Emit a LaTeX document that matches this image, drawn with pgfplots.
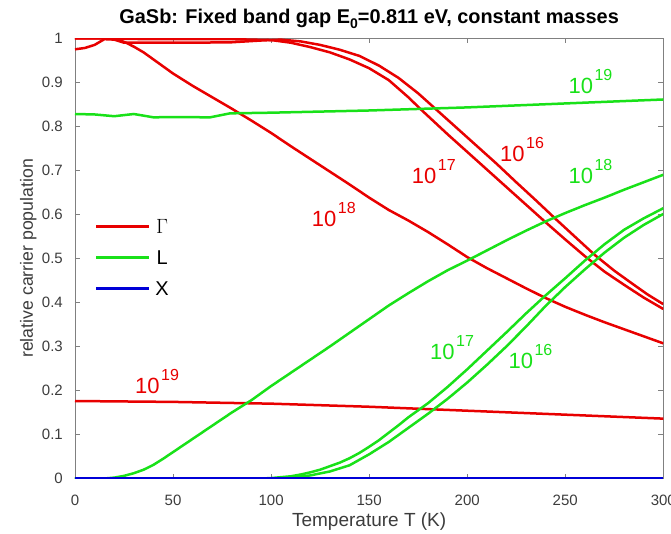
\documentclass[border=0pt]{standalone}
\usepackage{pgfplots}
\pgfplotsset{compat=1.18}
\usepackage{fontspec}
\setmainfont{Liberation Sans}
\definecolor{mred}{RGB}{232,0,0}
\definecolor{mgreen}{RGB}{25,225,25}
\definecolor{mblue}{RGB}{0,0,215}
\definecolor{axgray}{RGB}{128,128,128}
\definecolor{txgray}{RGB}{60,60,60}
\newcommand{\pw}[1]{10\hspace{1.5bp}\raisebox{13bp}{\fontsize{16bp}{16bp}\selectfont #1}}
\newcommand{\annfont}{\fontsize{22bp}{22bp}\selectfont}
\begin{document}
\begin{tikzpicture}
\begin{axis}[
  scale only axis, width=588.3bp, height=440.2bp,
  xmin=0, xmax=300, ymin=0, ymax=1,
  xtick={0,50,100,150,200,250,300},
  ytick={0,0.1,0.2,0.3,0.4,0.5,0.6,0.7,0.8,0.9,1},
  yticklabels={0,0.1,0.2,0.3,0.4,0.5,0.6,0.7,0.8,0.9,1},
  tick pos=both, tick align=inside, major tick length=5bp,
  axis line style={axgray, line width=0.8bp},
  every tick/.style={axgray, line width=0.8bp},
  /pgf/number format/assume math mode=true,
  tick label style={font=\fontsize{15bp}{15bp}\selectfont, text=txgray, inner sep=0pt},
  xticklabel style={yshift=-16bp},
  yticklabel style={xshift=-12bp},
  xlabel={Temperature T (K)},
  xlabel style={at={(axis description cs:0.5,-0.1095)}, anchor=base, text=txgray, font=\fontsize{19bp}{19bp}\selectfont},
  ylabel={relative carrier population},
  ylabel style={at={(axis description cs:-0.0714,0.5)}, anchor=base, text=txgray, font=\fontsize{17.7bp}{17.7bp}\selectfont},
  title={GaSb: Fixed band gap E\raisebox{-5bp}{\fontsize{14bp}{14bp}\selectfont 0}=0.811 eV, constant masses},
  title style={at={(axis description cs:0.5,1.021)}, anchor=base, font=\bfseries\fontsize{19.9bp}{19.9bp}\selectfont},
  legend image code/.code={\draw[#1] (0bp,7bp) -- (53bp,7bp);},
  legend cell align=left,
  legend style={at={(axis description cs:0.034,0.5925)}, anchor=north west, draw=none, fill=none,
    inner sep=0pt, outer sep=0pt, row sep=15bp, column sep=5bp,
    font=\fontsize{20bp}{20bp}\selectfont,
    nodes={inner sep=0pt, text height=16bp, text depth=0bp, anchor=base}},
  every axis plot/.append style={line width=2.5bp},
]
\addlegendimage{mred, line width=2.5bp}\addlegendentry{$\Gamma$}
\addlegendimage{mgreen, line width=2.5bp}\addlegendentry{L}
\addlegendimage{mblue, line width=2.5bp}\addlegendentry{X}

% Gamma valley
\addplot[mred, forget plot] coordinates {
(0,0.975)(5,0.978)(10,0.985)(15,0.998)(20,0.997)(25,0.99)(40,0.99)(60,0.99)(80,0.991)(95,0.995)(105,0.997)
(115,0.993)(125,0.985)(135,0.974)(145,0.96)(155,0.938)(165,0.91)(175,0.875)(185,0.835)(195,0.795)(205,0.755)
(215,0.715)(225,0.673)(235,0.632)(245,0.59)(255,0.549)(265,0.508)(275,0.472)(285,0.44)(292,0.418)(300,0.396)};
\addplot[mred, forget plot] coordinates {
(0,1.0)(10,1.0)(20,0.999)(40,0.998)(60,0.998)(80,0.998)(100,0.996)(110,0.99)(120,0.98)(130,0.968)(140,0.952)
(150,0.932)(160,0.905)(170,0.866)(176,0.84)(183,0.811)(190,0.782)(200,0.742)(210,0.702)(220,0.662)(230,0.622)
(240,0.582)(250,0.543)(260,0.505)(270,0.47)(280,0.44)(290,0.411)(300,0.385)};
\addplot[mred, forget plot] coordinates {
(0,1.0)(10,1.0)(18,1.0)(22,0.997)(26,0.99)(30,0.981)(35,0.968)(40,0.952)(45,0.936)(50,0.92)(60,0.892)(70,0.866)
(80,0.84)(90,0.813)(100,0.785)(110,0.755)(120,0.726)(130,0.697)(140,0.668)(150,0.638)(160,0.61)(170,0.586)
(180,0.56)(190,0.532)(200,0.503)(210,0.478)(220,0.455)(230,0.432)(240,0.41)(250,0.39)(260,0.372)(270,0.355)
(280,0.339)(290,0.323)(300,0.307)};
\addplot[mred, forget plot] coordinates {
(0,0.176)(50,0.174)(100,0.170)(150,0.163)(200,0.154)(250,0.145)(300,0.136)};

% L valley
\addplot[mgreen, forget plot] coordinates {
(0,0.828)(10,0.827)(20,0.823)(30,0.828)(40,0.8205)(50,0.821)(69,0.8205)(79,0.8295)(100,0.831)(150,0.836)
(200,0.843)(250,0.852)(300,0.861)};
\addplot[mgreen, forget plot] coordinates {
(0,0)(15,0)(20,0.002)(25,0.006)(30,0.012)(35,0.02)(40,0.031)(45,0.045)(50,0.06)(55,0.075)(60,0.09)(70,0.12)
(80,0.15)(90,0.178)(100,0.21)(110,0.24)(120,0.27)(130,0.30)(140,0.331)(150,0.362)(160,0.393)(170,0.421)
(180,0.448)(190,0.473)(200,0.495)(210,0.518)(220,0.541)(230,0.563)(240,0.584)(250,0.603)(260,0.621)
(270,0.638)(280,0.656)(290,0.673)(300,0.69)};
\addplot[mgreen, forget plot] coordinates {
(0,0)(95,0)(100,0.001)(105,0.003)(110,0.005)(115,0.009)(120,0.014)(125,0.02)(130,0.028)(135,0.036)(140,0.046)
(145,0.058)(150,0.072)(155,0.087)(160,0.104)(165,0.121)(170,0.139)(175,0.155)(180,0.171)(190,0.208)(200,0.248)
(210,0.29)(220,0.332)(230,0.375)(240,0.416)(250,0.455)(260,0.495)(270,0.532)(280,0.565)(290,0.591)(300,0.614)};
\addplot[mgreen, forget plot] coordinates {
(0,0)(100,0)(110,0.002)(120,0.007)(130,0.016)(140,0.03)(150,0.055)(160,0.083)(170,0.115)(180,0.147)(190,0.181)
(200,0.218)(210,0.258)(220,0.3)(230,0.345)(240,0.392)(250,0.435)(260,0.475)(270,0.513)(280,0.547)(290,0.576)
(300,0.601)};

% X valley
\addplot[mblue, forget plot] coordinates {(0,0)(100,0)(200,0)(300,0)};

% annotations
\node[anchor=base west, inner sep=0pt, text=mred, font=\annfont] at (axis cs:216.7,0.7197) {\pw{16}};
\node[anchor=base west, inner sep=0pt, text=mred, font=\annfont] at (axis cs:171.7,0.6706) {\pw{17}};
\node[anchor=base west, inner sep=0pt, text=mred, font=\annfont] at (axis cs:120.7,0.572) {\pw{18}};
\node[anchor=base west, inner sep=0pt, text=mred, font=\annfont] at (axis cs:30.6,0.192) {\pw{19}};
\node[anchor=base west, inner sep=0pt, text=mgreen, font=\annfont] at (axis cs:251.6,0.8735) {\pw{19}};
\node[anchor=base west, inner sep=0pt, text=mgreen, font=\annfont] at (axis cs:251.6,0.6706) {\pw{18}};
\node[anchor=base west, inner sep=0pt, text=mgreen, font=\annfont] at (axis cs:181.0,0.2708) {\pw{17}};
\node[anchor=base west, inner sep=0pt, text=mgreen, font=\annfont] at (axis cs:221.0,0.2503) {\pw{16}};

\coordinate (bl) at (rel axis cs:0,0);
\coordinate (tr) at (rel axis cs:1,1);
\end{axis}
\pgfresetboundingbox
\path[use as bounding box] ([shift={(-75bp,-55.5bp)}]bl) rectangle ([shift={(7.7bp,38.3bp)}]tr);
\end{tikzpicture}
\end{document}
